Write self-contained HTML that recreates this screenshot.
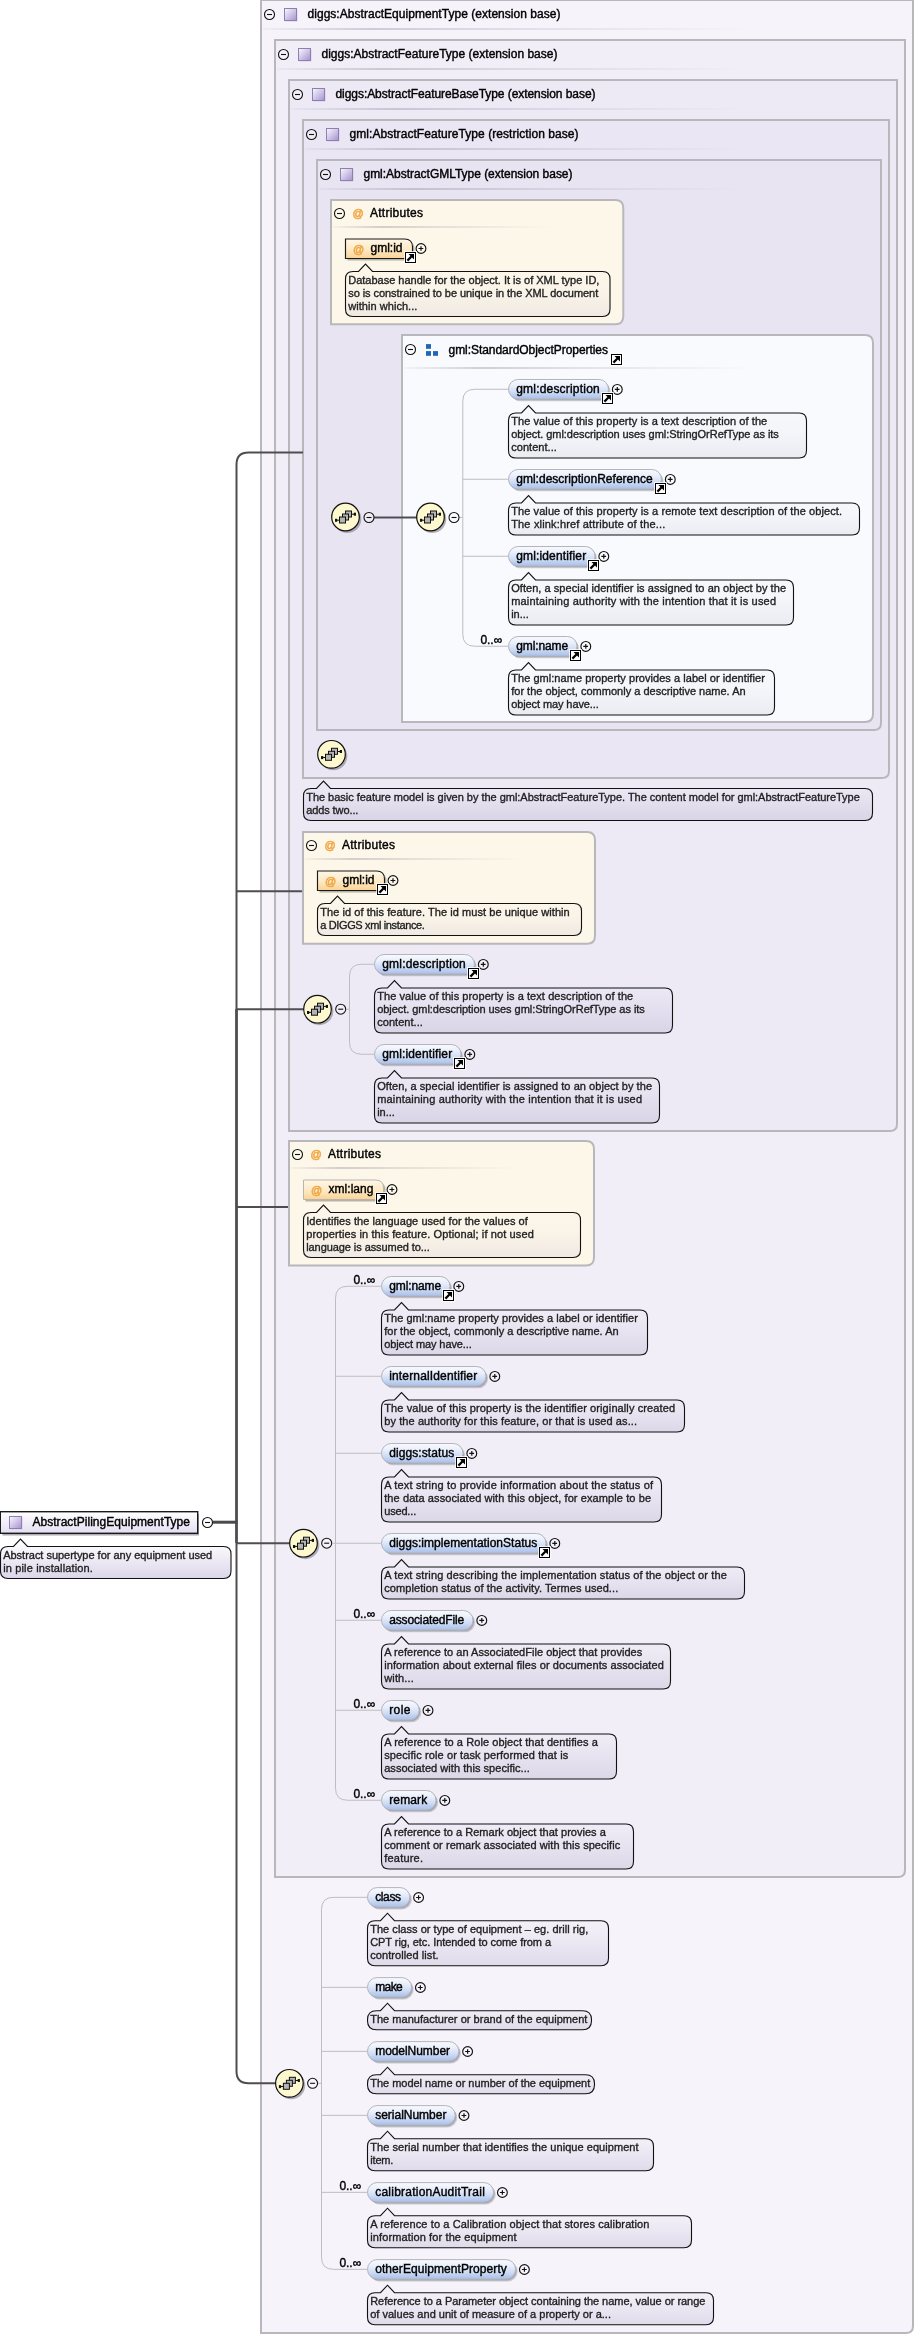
<!DOCTYPE html>
<html><head><meta charset="utf-8"><title>AbstractPilingEquipmentType</title>
<style>html,body{margin:0;padding:0;background:#fff}body{width:915px;height:2335px;overflow:hidden;font-family:"Liberation Sans",sans-serif}svg text{font-family:"Liberation Sans",sans-serif;white-space:pre}</style>
</head><body>
<svg width="915" height="2335" viewBox="0 0 915 2335" font-family="'Liberation Sans', sans-serif" style="display:block;will-change:transform"><defs>
<linearGradient id="gType" x1="0" y1="0" x2="1" y2="1"><stop offset="0" stop-color="#fbf9fe"/><stop offset="1" stop-color="#a591cf"/></linearGradient>
<linearGradient id="gSep" x1="0" y1="0" x2="1" y2="0"><stop offset="0" stop-color="#85858f" stop-opacity="0.06"/><stop offset="0.22" stop-color="#85858f" stop-opacity="0.36"/><stop offset="0.5" stop-color="#85858f" stop-opacity="0.2"/><stop offset="1" stop-color="#85858f" stop-opacity="0"/></linearGradient>
<linearGradient id="gAnn" x1="0" y1="0" x2="0" y2="1"><stop offset="0" stop-color="#9a8fb5" stop-opacity="0.0"/><stop offset="0.3" stop-color="#9a8fb5" stop-opacity="0.05"/><stop offset="1" stop-color="#9a8fb5" stop-opacity="0.24"/></linearGradient>
<linearGradient id="gAnnG" x1="0" y1="0" x2="0" y2="1"><stop offset="0" stop-color="#ffffff" stop-opacity="0.1"/><stop offset="0.45" stop-color="#9a9aa8" stop-opacity="0.04"/><stop offset="1" stop-color="#8a8a9a" stop-opacity="0.13"/></linearGradient>
<linearGradient id="gAnnW" x1="0" y1="0" x2="0" y2="1"><stop offset="0" stop-color="#ffffff"/><stop offset="0.3" stop-color="#f6f4fa"/><stop offset="1" stop-color="#dbd6e9"/></linearGradient>
<linearGradient id="gAnnC" x1="0" y1="0" x2="0" y2="1"><stop offset="0" stop-color="#ffffff" stop-opacity="0.1"/><stop offset="0.45" stop-color="#b9b0cc" stop-opacity="0.04"/><stop offset="1" stop-color="#9a8fb5" stop-opacity="0.14"/></linearGradient>
<linearGradient id="gElem" x1="0" y1="0" x2="0" y2="1"><stop offset="0" stop-color="#f8fafe"/><stop offset="0.35" stop-color="#e8eefb"/><stop offset="0.65" stop-color="#cfdcf5"/><stop offset="1" stop-color="#a6bfea"/></linearGradient>
<linearGradient id="gAttr" x1="0" y1="0" x2="0" y2="1"><stop offset="0" stop-color="#fef6e6"/><stop offset="0.5" stop-color="#fdebc9"/><stop offset="1" stop-color="#fad394"/></linearGradient>
<linearGradient id="gRoot" x1="0" y1="0" x2="0" y2="1"><stop offset="0" stop-color="#ffffff"/><stop offset="1" stop-color="#e4def2"/></linearGradient>
</defs>
<path d="M261 0H913V2326Q913 2333 906 2333H261Z" fill="#f6f3fb" stroke="#b8b8bc" stroke-width="2"/>
<circle cx="269.5" cy="14.5" r="5" fill="#fff" fill-opacity="0.25" stroke="#111" stroke-width="1.1"/>
<path d="M267.0 14.5H272.0" stroke="#111" stroke-width="1.1"/>
<rect x="285.5" y="9.5" width="12" height="12" fill="#c9bfe0" opacity="0.7"/>
<rect x="284.5" y="8.5" width="12" height="12" fill="url(#gType)" stroke="#8d7fb0" stroke-width="1"/>
<text x="307.5" y="18.1" font-size="12" fill="#000" text-anchor="start" textLength="253" lengthAdjust="spacing" stroke="#000" stroke-width="0.4">diggs:AbstractEquipmentType (extension base)</text>
<rect x="263" y="28" width="489.0" height="2" fill="url(#gSep)"/>
<path d="M275 40H905V1870Q905 1877 898 1877H275Z" fill="#f1eef8" stroke="#b8b8bc" stroke-width="2"/>
<circle cx="283.5" cy="54.5" r="5" fill="#fff" fill-opacity="0.25" stroke="#111" stroke-width="1.1"/>
<path d="M281.0 54.5H286.0" stroke="#111" stroke-width="1.1"/>
<rect x="299.5" y="49.5" width="12" height="12" fill="#c9bfe0" opacity="0.7"/>
<rect x="298.5" y="48.5" width="12" height="12" fill="url(#gType)" stroke="#8d7fb0" stroke-width="1"/>
<text x="321.5" y="58.1" font-size="12" fill="#000" text-anchor="start" textLength="236" lengthAdjust="spacing" stroke="#000" stroke-width="0.4">diggs:AbstractFeatureType (extension base)</text>
<rect x="277" y="68" width="472.5" height="2" fill="url(#gSep)"/>
<path d="M289 80H897V1124Q897 1131 890 1131H289Z" fill="#edeaf6" stroke="#b8b8bc" stroke-width="2"/>
<circle cx="297.5" cy="94.5" r="5" fill="#fff" fill-opacity="0.25" stroke="#111" stroke-width="1.1"/>
<path d="M295.0 94.5H300.0" stroke="#111" stroke-width="1.1"/>
<rect x="313.5" y="89.5" width="12" height="12" fill="#c9bfe0" opacity="0.7"/>
<rect x="312.5" y="88.5" width="12" height="12" fill="url(#gType)" stroke="#8d7fb0" stroke-width="1"/>
<text x="335.5" y="98.1" font-size="12" fill="#000" text-anchor="start" textLength="260" lengthAdjust="spacing" stroke="#000" stroke-width="0.4">diggs:AbstractFeatureBaseType (extension base)</text>
<rect x="291" y="108" width="456.0" height="2" fill="url(#gSep)"/>
<path d="M303 120H889V771Q889 778 882 778H303Z" fill="#eae6f4" stroke="#b8b8bc" stroke-width="2"/>
<circle cx="311.5" cy="134.5" r="5" fill="#fff" fill-opacity="0.25" stroke="#111" stroke-width="1.1"/>
<path d="M309.0 134.5H314.0" stroke="#111" stroke-width="1.1"/>
<rect x="327.5" y="129.5" width="12" height="12" fill="#c9bfe0" opacity="0.7"/>
<rect x="326.5" y="128.5" width="12" height="12" fill="url(#gType)" stroke="#8d7fb0" stroke-width="1"/>
<text x="349.5" y="138.1" font-size="12" fill="#000" text-anchor="start" textLength="229" lengthAdjust="spacing" stroke="#000" stroke-width="0.4">gml:AbstractFeatureType (restriction base)</text>
<rect x="305" y="148" width="439.5" height="2" fill="url(#gSep)"/>
<path d="M317 160H881V723Q881 730 874 730H317Z" fill="#e8e4f2" stroke="#b8b8bc" stroke-width="2"/>
<circle cx="325.5" cy="174.5" r="5" fill="#fff" fill-opacity="0.25" stroke="#111" stroke-width="1.1"/>
<path d="M323.0 174.5H328.0" stroke="#111" stroke-width="1.1"/>
<rect x="341.5" y="169.5" width="12" height="12" fill="#c9bfe0" opacity="0.7"/>
<rect x="340.5" y="168.5" width="12" height="12" fill="url(#gType)" stroke="#8d7fb0" stroke-width="1"/>
<text x="363.5" y="178.1" font-size="12" fill="#000" text-anchor="start" textLength="209" lengthAdjust="spacing" stroke="#000" stroke-width="0.4">gml:AbstractGMLType (extension base)</text>
<rect x="319" y="188" width="423.0" height="2" fill="url(#gSep)"/>
<path d="M303 452.5H248.5Q236.5 452.5 236.5 464.5V2071.2Q236.5 2083.2 248.5 2083.2H276" stroke="#4e4e52" stroke-width="2" fill="none"/>
<path d="M236.5 1009V1543" stroke="#4e4e52" stroke-width="2.6" fill="none"/>
<path d="M236.5 891.3H303" stroke="#4e4e52" stroke-width="2" fill="none"/>
<path d="M236.5 1009.2H304" stroke="#4e4e52" stroke-width="2" fill="none"/>
<path d="M236.5 1207H289" stroke="#4e4e52" stroke-width="2" fill="none"/>
<path d="M213 1522.2H237.5" stroke="#4a4a4e" stroke-width="3" fill="none"/>
<path d="M236.5 1543.2H290" stroke="#4e4e52" stroke-width="2" fill="none"/>
<path d="M331 200H615.3Q623.3 200 623.3 208V316.3Q623.3 324.3 615.3 324.3H331Z" fill="#fdf7ea" stroke="#b8b8bc" stroke-width="2"/>
<circle cx="339.5" cy="213.5" r="5" fill="#fff" fill-opacity="0.25" stroke="#111" stroke-width="1.1"/>
<path d="M337.0 213.5H342.0" stroke="#111" stroke-width="1.1"/>
<text x="352.5" y="217" font-size="11" fill="#f0a846" text-anchor="start" textLength="9.2" lengthAdjust="spacing" stroke="#f0a846" stroke-width="0.6">@</text>
<text x="370" y="217.3" font-size="12" fill="#000" text-anchor="start" textLength="53" lengthAdjust="spacing" stroke="#000" stroke-width="0.4">Attributes</text>
<rect x="333" y="226" width="219.22499999999997" height="2" fill="url(#gSep)"/>
<path d="M347.5 241.0H406.5Q414.5 241.0 414.5 249.0V260.5H347.5Z" fill="#9a958a" opacity="0.7"/>
<path d="M345.5 239.0H404.5Q412.5 239.0 412.5 247.0V258.5H345.5Z" fill="url(#gAttr)" stroke="#1a1a1a" stroke-width="1.15"/>
<text x="353.0" y="252.6" font-size="11" fill="#f0a846" text-anchor="start" textLength="9.2" lengthAdjust="spacing" stroke="#f0a846" stroke-width="0.6">@</text>
<text x="370.5" y="251.9" font-size="12" fill="#000" text-anchor="start" textLength="32" lengthAdjust="spacing" stroke="#000" stroke-width="0.4">gml:id</text>
<circle cx="421.0" cy="248.5" r="4.9" fill="#fff" fill-opacity="0.25" stroke="#111" stroke-width="1.15"/>
<path d="M418.5 248.5H423.3M421.0 246.2V250.8" stroke="#111" stroke-width="1.2"/>
<rect x="404.5" y="251.5" width="12" height="12" fill="none" stroke="#fff" stroke-opacity="0.75" stroke-width="1"/>
<rect x="405.5" y="252.5" width="10" height="10" fill="#fff" stroke="#000" stroke-width="1"/>
<path d="M407.4 260.6L411.7 256.3" stroke="#000" stroke-width="2.2" fill="none"/>
<path d="M408.5 254.0H414.0V259.5Z" fill="#000"/>
<path d="M353.0 271.5H358.5L365.5 264.0L372.5 271.5H602.5Q610.0 271.5 610.0 279.0V309.0Q610.0 316.5 602.5 316.5H353.0Q345.5 316.5 345.5 309.0V279.0Q345.5 271.5 353.0 271.5Z" fill="url(#gAnnC)" stroke="#111" stroke-width="1.1"/>
<text x="348.2" y="283.6" font-size="11" fill="#1f1f1f" text-anchor="start" textLength="251.2" lengthAdjust="spacing" stroke="#1f1f1f" stroke-width="0.35">Database handle for the object. It is of XML type ID,</text>
<text x="348.2" y="296.6" font-size="11" fill="#1f1f1f" text-anchor="start" textLength="250" lengthAdjust="spacing" stroke="#1f1f1f" stroke-width="0.35">so is constrained to be unique in the XML document</text>
<text x="348.2" y="309.6" font-size="11" fill="#1f1f1f" text-anchor="start" textLength="69.2" lengthAdjust="spacing" stroke="#1f1f1f" stroke-width="0.35">within which...</text>
<path d="M402 335H865Q873 335 873 343V714Q873 722 865 722H402Z" fill="#f9fafe" stroke="#b8b8bc" stroke-width="2"/>
<circle cx="410.5" cy="349.5" r="5" fill="#fff" fill-opacity="0.25" stroke="#111" stroke-width="1.1"/>
<path d="M408.0 349.5H413.0" stroke="#111" stroke-width="1.1"/>
<rect x="426" y="344.1" width="5" height="4.7" fill="#1f66b4"/>
<rect x="426" y="351.1" width="5" height="4.7" fill="#1f66b4"/>
<rect x="433" y="351.1" width="5" height="4.7" fill="#1f66b4"/>
<text x="448.5" y="353.5" font-size="12" fill="#000" text-anchor="start" textLength="159.5" lengthAdjust="spacing" stroke="#000" stroke-width="0.4">gml:StandardObjectProperties</text>
<rect x="610.5" y="353.5" width="12" height="12" fill="none" stroke="#fff" stroke-opacity="0.75" stroke-width="1"/>
<rect x="611.5" y="354.5" width="10" height="10" fill="#fff" stroke="#000" stroke-width="1"/>
<path d="M613.4 362.6L617.7 358.3" stroke="#000" stroke-width="2.2" fill="none"/>
<path d="M614.5 356.0H620.0V361.5Z" fill="#000"/>
<rect x="404" y="367" width="353.25" height="2" fill="url(#gSep)"/>
<path d="M508 389.25H474.8Q462.8 389.25 462.8 401.25V634.25Q462.8 646.25 474.8 646.25H508" stroke="#bdbdc1" stroke-width="1" fill="none"/>
<path d="M462.8 479.25H508" stroke="#bdbdc1" stroke-width="1" fill="none"/>
<path d="M462.8 556.25H508" stroke="#bdbdc1" stroke-width="1" fill="none"/>
<rect x="509.6" y="380.8" width="100.0" height="19.5" rx="9.7" fill="#7d7d88" opacity="0.45"/>
<rect x="510.6" y="381.8" width="100.0" height="19.5" rx="9.7" fill="#7d7d88" opacity="0.35"/>
<rect x="508.5" y="379.5" width="100.0" height="19.5" rx="9.7" fill="url(#gElem)" stroke="#b3b5bb" stroke-width="1"/>
<text x="516.2" y="392.7" font-size="12" fill="#000" text-anchor="start" textLength="83.5" lengthAdjust="spacing" stroke="#000" stroke-width="0.4">gml:description</text>
<circle cx="617.3" cy="389.4" r="4.9" fill="#fff" fill-opacity="0.25" stroke="#111" stroke-width="1.15"/>
<path d="M614.8 389.4H619.5999999999999M617.3 387.09999999999997V391.7" stroke="#111" stroke-width="1.2"/>
<rect x="601.5" y="392.5" width="12" height="12" fill="none" stroke="#fff" stroke-opacity="0.75" stroke-width="1"/>
<rect x="602.5" y="393.5" width="10" height="10" fill="#fff" stroke="#000" stroke-width="1"/>
<path d="M604.4 401.6L608.7 397.3" stroke="#000" stroke-width="2.2" fill="none"/>
<path d="M605.5 395.0H611.0V400.5Z" fill="#000"/>
<path d="M516.0 413H521.5L528.5 405.5L535.5 413H799.0Q806.5 413 806.5 420.5V450.5Q806.5 458 799.0 458H516.0Q508.5 458 508.5 450.5V420.5Q508.5 413 516.0 413Z" fill="url(#gAnnG)" stroke="#111" stroke-width="1.1"/>
<text x="511.2" y="425.1" font-size="11" fill="#1f1f1f" text-anchor="start" textLength="256" lengthAdjust="spacing" stroke="#1f1f1f" stroke-width="0.35">The value of this property is a text description of the</text>
<text x="511.2" y="438.1" font-size="11" fill="#1f1f1f" text-anchor="start" textLength="267.6" lengthAdjust="spacing" stroke="#1f1f1f" stroke-width="0.35">object. gml:description uses gml:StringOrRefType as its</text>
<text x="511.2" y="451.1" font-size="11" fill="#1f1f1f" text-anchor="start" textLength="45.6" lengthAdjust="spacing" stroke="#1f1f1f" stroke-width="0.35">content...</text>
<rect x="509.6" y="470.8" width="153.0" height="19.5" rx="9.7" fill="#7d7d88" opacity="0.45"/>
<rect x="510.6" y="471.8" width="153.0" height="19.5" rx="9.7" fill="#7d7d88" opacity="0.35"/>
<rect x="508.5" y="469.5" width="153.0" height="19.5" rx="9.7" fill="url(#gElem)" stroke="#b3b5bb" stroke-width="1"/>
<text x="516.2" y="482.7" font-size="12" fill="#000" text-anchor="start" textLength="136.5" lengthAdjust="spacing" stroke="#000" stroke-width="0.4">gml:descriptionReference</text>
<circle cx="670.3" cy="479.4" r="4.9" fill="#fff" fill-opacity="0.25" stroke="#111" stroke-width="1.15"/>
<path d="M667.8 479.4H672.5999999999999M670.3 477.09999999999997V481.7" stroke="#111" stroke-width="1.2"/>
<rect x="654.5" y="482.5" width="12" height="12" fill="none" stroke="#fff" stroke-opacity="0.75" stroke-width="1"/>
<rect x="655.5" y="483.5" width="10" height="10" fill="#fff" stroke="#000" stroke-width="1"/>
<path d="M657.4 491.6L661.7 487.3" stroke="#000" stroke-width="2.2" fill="none"/>
<path d="M658.5 485.0H664.0V490.5Z" fill="#000"/>
<path d="M516.0 503H521.5L528.5 495.5L535.5 503H852.0Q859.5 503 859.5 510.5V527.5Q859.5 535 852.0 535H516.0Q508.5 535 508.5 527.5V510.5Q508.5 503 516.0 503Z" fill="url(#gAnnG)" stroke="#111" stroke-width="1.1"/>
<text x="511.2" y="515.1" font-size="11" fill="#1f1f1f" text-anchor="start" textLength="330.8" lengthAdjust="spacing" stroke="#1f1f1f" stroke-width="0.35">The value of this property is a remote text description of the object.</text>
<text x="511.2" y="528.1" font-size="11" fill="#1f1f1f" text-anchor="start" textLength="154" lengthAdjust="spacing" stroke="#1f1f1f" stroke-width="0.35">The xlink:href attribute of the...</text>
<rect x="509.6" y="547.8" width="86.5" height="19.5" rx="9.7" fill="#7d7d88" opacity="0.45"/>
<rect x="510.6" y="548.8" width="86.5" height="19.5" rx="9.7" fill="#7d7d88" opacity="0.35"/>
<rect x="508.5" y="546.5" width="86.5" height="19.5" rx="9.7" fill="url(#gElem)" stroke="#b3b5bb" stroke-width="1"/>
<text x="516.2" y="559.7" font-size="12" fill="#000" text-anchor="start" textLength="70" lengthAdjust="spacing" stroke="#000" stroke-width="0.4">gml:identifier</text>
<circle cx="603.8" cy="556.4" r="4.9" fill="#fff" fill-opacity="0.25" stroke="#111" stroke-width="1.15"/>
<path d="M601.3 556.4H606.0999999999999M603.8 554.1V558.6999999999999" stroke="#111" stroke-width="1.2"/>
<rect x="587.5" y="559.5" width="12" height="12" fill="none" stroke="#fff" stroke-opacity="0.75" stroke-width="1"/>
<rect x="588.5" y="560.5" width="10" height="10" fill="#fff" stroke="#000" stroke-width="1"/>
<path d="M590.4 568.6L594.7 564.3" stroke="#000" stroke-width="2.2" fill="none"/>
<path d="M591.5 562.0H597.0V567.5Z" fill="#000"/>
<path d="M516.0 580H521.5L528.5 572.5L535.5 580H786.0Q793.5 580 793.5 587.5V617.5Q793.5 625 786.0 625H516.0Q508.5 625 508.5 617.5V587.5Q508.5 580 516.0 580Z" fill="url(#gAnnG)" stroke="#111" stroke-width="1.1"/>
<text x="511.2" y="592.1" font-size="11" fill="#1f1f1f" text-anchor="start" textLength="274.8" lengthAdjust="spacing" stroke="#1f1f1f" stroke-width="0.35">Often, a special identifier is assigned to an object by the</text>
<text x="511.2" y="605.1" font-size="11" fill="#1f1f1f" text-anchor="start" textLength="264.8" lengthAdjust="spacing" stroke="#1f1f1f" stroke-width="0.35">maintaining authority with the intention that it is used</text>
<text x="511.2" y="618.1" font-size="11" fill="#1f1f1f" text-anchor="start" textLength="17.6" lengthAdjust="spacing" stroke="#1f1f1f" stroke-width="0.35">in...</text>
<rect x="509.6" y="637.8" width="68.5" height="19.5" rx="9.7" fill="#7d7d88" opacity="0.45"/>
<rect x="510.6" y="638.8" width="68.5" height="19.5" rx="9.7" fill="#7d7d88" opacity="0.35"/>
<rect x="508.5" y="636.5" width="68.5" height="19.5" rx="9.7" fill="url(#gElem)" stroke="#b3b5bb" stroke-width="1"/>
<text x="516.2" y="649.7" font-size="12" fill="#000" text-anchor="start" textLength="52" lengthAdjust="spacing" stroke="#000" stroke-width="0.4">gml:name</text>
<circle cx="585.8" cy="646.4" r="4.9" fill="#fff" fill-opacity="0.25" stroke="#111" stroke-width="1.15"/>
<path d="M583.3 646.4H588.0999999999999M585.8 644.1V648.6999999999999" stroke="#111" stroke-width="1.2"/>
<rect x="569.5" y="649.5" width="12" height="12" fill="none" stroke="#fff" stroke-opacity="0.75" stroke-width="1"/>
<rect x="570.5" y="650.5" width="10" height="10" fill="#fff" stroke="#000" stroke-width="1"/>
<path d="M572.4 658.6L576.7 654.3" stroke="#000" stroke-width="2.2" fill="none"/>
<path d="M573.5 652.0H579.0V657.5Z" fill="#000"/>
<text x="480.4" y="643.8" font-size="12" fill="#000" text-anchor="start" textLength="21.8" lengthAdjust="spacing" stroke="#000" stroke-width="0.4">0..∞</text>
<path d="M516.0 670H521.5L528.5 662.5L535.5 670H767.0Q774.5 670 774.5 677.5V707.5Q774.5 715 767.0 715H516.0Q508.5 715 508.5 707.5V677.5Q508.5 670 516.0 670Z" fill="url(#gAnnG)" stroke="#111" stroke-width="1.1"/>
<text x="511.2" y="682.1" font-size="11" fill="#1f1f1f" text-anchor="start" textLength="253.6" lengthAdjust="spacing" stroke="#1f1f1f" stroke-width="0.35">The gml:name property provides a label or identifier</text>
<text x="511.2" y="695.1" font-size="11" fill="#1f1f1f" text-anchor="start" textLength="234.4" lengthAdjust="spacing" stroke="#1f1f1f" stroke-width="0.35">for the object, commonly a descriptive name. An</text>
<text x="511.2" y="708.1" font-size="11" fill="#1f1f1f" text-anchor="start" textLength="87.6" lengthAdjust="spacing" stroke="#1f1f1f" stroke-width="0.35">object may have...</text>
<path d="M374 517.5H417" stroke="#4e4e52" stroke-width="2" fill="none"/>
<path d="M459 517.5H462.8" stroke="#bcbcc0" stroke-width="1" fill="none"/>
<circle cx="347.3" cy="519" r="14" fill="#77737f" opacity="0.55"/>
<circle cx="345.5" cy="517" r="13.8" fill="#fdf8cd" stroke="#111" stroke-width="1.2"/>
<path d="M336.0 520.2H340.5M350.5 514.2H355.0" stroke="#111" stroke-width="1"/>
<rect x="335.0" y="518.8" width="2.2" height="3" fill="#111"/>
<rect x="353.8" y="512.7" width="2.2" height="3" fill="#111"/>
<rect x="345.5" y="511" width="6" height="6" fill="#b4b4b4" stroke="#111" stroke-width="1"/>
<rect x="342.5" y="514" width="6" height="6" fill="#b4b4b4" stroke="#111" stroke-width="1"/>
<rect x="339.5" y="517" width="6" height="6" fill="#b4b4b4" stroke="#111" stroke-width="1"/>
<circle cx="369" cy="517.5" r="5" fill="#fff" fill-opacity="0.25" stroke="#111" stroke-width="1.1"/>
<path d="M366.5 517.5H371.5" stroke="#111" stroke-width="1.1"/>
<circle cx="432.3" cy="519" r="14" fill="#77737f" opacity="0.55"/>
<circle cx="430.5" cy="517" r="13.8" fill="#fdf8cd" stroke="#111" stroke-width="1.2"/>
<path d="M421.0 520.2H425.5M435.5 514.2H440.0" stroke="#111" stroke-width="1"/>
<rect x="420.0" y="518.8" width="2.2" height="3" fill="#111"/>
<rect x="438.8" y="512.7" width="2.2" height="3" fill="#111"/>
<rect x="430.5" y="511" width="6" height="6" fill="#b4b4b4" stroke="#111" stroke-width="1"/>
<rect x="427.5" y="514" width="6" height="6" fill="#b4b4b4" stroke="#111" stroke-width="1"/>
<rect x="424.5" y="517" width="6" height="6" fill="#b4b4b4" stroke="#111" stroke-width="1"/>
<circle cx="454" cy="517.5" r="5" fill="#fff" fill-opacity="0.25" stroke="#111" stroke-width="1.1"/>
<path d="M451.5 517.5H456.5" stroke="#111" stroke-width="1.1"/>
<circle cx="333.3" cy="756.3" r="14" fill="#77737f" opacity="0.55"/>
<circle cx="331.5" cy="754.3" r="13.8" fill="#fdf8cd" stroke="#111" stroke-width="1.2"/>
<path d="M322.0 757.5H326.5M336.5 751.5H341.0" stroke="#111" stroke-width="1"/>
<rect x="321.0" y="756.0999999999999" width="2.2" height="3" fill="#111"/>
<rect x="339.8" y="750.0" width="2.2" height="3" fill="#111"/>
<rect x="331.5" y="748.3" width="6" height="6" fill="#b4b4b4" stroke="#111" stroke-width="1"/>
<rect x="328.5" y="751.3" width="6" height="6" fill="#b4b4b4" stroke="#111" stroke-width="1"/>
<rect x="325.5" y="754.3" width="6" height="6" fill="#b4b4b4" stroke="#111" stroke-width="1"/>
<path d="M311.0 788.5H316.5L323.5 781.0L330.5 788.5H865.0Q872.5 788.5 872.5 796.0V813.0Q872.5 820.5 865.0 820.5H311.0Q303.5 820.5 303.5 813.0V796.0Q303.5 788.5 311.0 788.5Z" fill="url(#gAnn)" stroke="#111" stroke-width="1.1"/>
<text x="306.2" y="800.6" font-size="11" fill="#1f1f1f" text-anchor="start" textLength="553.6" lengthAdjust="spacing" stroke="#1f1f1f" stroke-width="0.35">The basic feature model is given by the gml:AbstractFeatureType. The content model for gml:AbstractFeatureType</text>
<text x="306.2" y="813.6" font-size="11" fill="#1f1f1f" text-anchor="start" textLength="52.2" lengthAdjust="spacing" stroke="#1f1f1f" stroke-width="0.35">adds two...</text>
<path d="M303 832H587Q595 832 595 840V935.7Q595 943.7 587 943.7H303Z" fill="#fdf7ea" stroke="#b8b8bc" stroke-width="2"/>
<circle cx="311.5" cy="845.5" r="5" fill="#fff" fill-opacity="0.25" stroke="#111" stroke-width="1.1"/>
<path d="M309.0 845.5H314.0" stroke="#111" stroke-width="1.1"/>
<text x="324.5" y="849" font-size="11" fill="#f0a846" text-anchor="start" textLength="9.2" lengthAdjust="spacing" stroke="#f0a846" stroke-width="0.6">@</text>
<text x="342" y="849.3" font-size="12" fill="#000" text-anchor="start" textLength="53" lengthAdjust="spacing" stroke="#000" stroke-width="0.4">Attributes</text>
<rect x="305" y="858" width="219.0" height="2" fill="url(#gSep)"/>
<path d="M319.5 873.0H378.5Q386.5 873.0 386.5 881.0V892.5H319.5Z" fill="#9a958a" opacity="0.7"/>
<path d="M317.5 871.0H376.5Q384.5 871.0 384.5 879.0V890.5H317.5Z" fill="url(#gAttr)" stroke="#1a1a1a" stroke-width="1.15"/>
<text x="325.0" y="884.6" font-size="11" fill="#f0a846" text-anchor="start" textLength="9.2" lengthAdjust="spacing" stroke="#f0a846" stroke-width="0.6">@</text>
<text x="342.5" y="883.9" font-size="12" fill="#000" text-anchor="start" textLength="32" lengthAdjust="spacing" stroke="#000" stroke-width="0.4">gml:id</text>
<circle cx="393.0" cy="880.5" r="4.9" fill="#fff" fill-opacity="0.25" stroke="#111" stroke-width="1.15"/>
<path d="M390.5 880.5H395.3M393.0 878.2V882.8" stroke="#111" stroke-width="1.2"/>
<rect x="376.5" y="883.5" width="12" height="12" fill="none" stroke="#fff" stroke-opacity="0.75" stroke-width="1"/>
<rect x="377.5" y="884.5" width="10" height="10" fill="#fff" stroke="#000" stroke-width="1"/>
<path d="M379.4 892.6L383.7 888.3" stroke="#000" stroke-width="2.2" fill="none"/>
<path d="M380.5 886.0H386.0V891.5Z" fill="#000"/>
<path d="M325.0 903.5H330.5L337.5 896.0L344.5 903.5H574.0Q581.5 903.5 581.5 911.0V928.0Q581.5 935.5 574.0 935.5H325.0Q317.5 935.5 317.5 928.0V911.0Q317.5 903.5 325.0 903.5Z" fill="url(#gAnnC)" stroke="#111" stroke-width="1.1"/>
<text x="320.2" y="915.6" font-size="11" fill="#1f1f1f" text-anchor="start" textLength="249.5" lengthAdjust="spacing" stroke="#1f1f1f" stroke-width="0.35">The id of this feature. The id must be unique within</text>
<text x="320.2" y="928.6" font-size="11" fill="#1f1f1f" text-anchor="start" textLength="104.7" lengthAdjust="spacing" stroke="#1f1f1f" stroke-width="0.35">a DIGGS xml instance.</text>
<circle cx="319.3" cy="1011.2" r="14" fill="#77737f" opacity="0.55"/>
<circle cx="317.5" cy="1009.2" r="13.8" fill="#fdf8cd" stroke="#111" stroke-width="1.2"/>
<path d="M308.0 1012.4000000000001H312.5M322.5 1006.4000000000001H327.0" stroke="#111" stroke-width="1"/>
<rect x="307.0" y="1011.0" width="2.2" height="3" fill="#111"/>
<rect x="325.8" y="1004.9000000000001" width="2.2" height="3" fill="#111"/>
<rect x="317.5" y="1003.2" width="6" height="6" fill="#b4b4b4" stroke="#111" stroke-width="1"/>
<rect x="314.5" y="1006.2" width="6" height="6" fill="#b4b4b4" stroke="#111" stroke-width="1"/>
<rect x="311.5" y="1009.2" width="6" height="6" fill="#b4b4b4" stroke="#111" stroke-width="1"/>
<circle cx="340.7" cy="1009.2" r="5" fill="#fff" fill-opacity="0.25" stroke="#111" stroke-width="1.1"/>
<path d="M338.2 1009.2H343.2" stroke="#111" stroke-width="1.1"/>
<path d="M374 964.25H361.5Q349.5 964.25 349.5 976.25V1042.25Q349.5 1054.25 361.5 1054.25H374" stroke="#bdbdc1" stroke-width="1" fill="none"/>
<path d="M346 1009.25H349.5" stroke="#bcbcc0" stroke-width="1" fill="none"/>
<rect x="375.6" y="955.8" width="100.0" height="19.5" rx="9.7" fill="#7d7d88" opacity="0.45"/>
<rect x="376.6" y="956.8" width="100.0" height="19.5" rx="9.7" fill="#7d7d88" opacity="0.35"/>
<rect x="374.5" y="954.5" width="100.0" height="19.5" rx="9.7" fill="url(#gElem)" stroke="#b3b5bb" stroke-width="1"/>
<text x="382.2" y="967.7" font-size="12" fill="#000" text-anchor="start" textLength="83.5" lengthAdjust="spacing" stroke="#000" stroke-width="0.4">gml:description</text>
<circle cx="483.3" cy="964.4" r="4.9" fill="#fff" fill-opacity="0.25" stroke="#111" stroke-width="1.15"/>
<path d="M480.8 964.4H485.6M483.3 962.1V966.6999999999999" stroke="#111" stroke-width="1.2"/>
<rect x="467.5" y="967.5" width="12" height="12" fill="none" stroke="#fff" stroke-opacity="0.75" stroke-width="1"/>
<rect x="468.5" y="968.5" width="10" height="10" fill="#fff" stroke="#000" stroke-width="1"/>
<path d="M470.4 976.6L474.7 972.3" stroke="#000" stroke-width="2.2" fill="none"/>
<path d="M471.5 970.0H477.0V975.5Z" fill="#000"/>
<path d="M382.0 988H387.5L394.5 980.5L401.5 988H665.0Q672.5 988 672.5 995.5V1025.5Q672.5 1033 665.0 1033H382.0Q374.5 1033 374.5 1025.5V995.5Q374.5 988 382.0 988Z" fill="url(#gAnn)" stroke="#111" stroke-width="1.1"/>
<text x="377.2" y="1000.1" font-size="11" fill="#1f1f1f" text-anchor="start" textLength="256" lengthAdjust="spacing" stroke="#1f1f1f" stroke-width="0.35">The value of this property is a text description of the</text>
<text x="377.2" y="1013.1" font-size="11" fill="#1f1f1f" text-anchor="start" textLength="267.6" lengthAdjust="spacing" stroke="#1f1f1f" stroke-width="0.35">object. gml:description uses gml:StringOrRefType as its</text>
<text x="377.2" y="1026.1" font-size="11" fill="#1f1f1f" text-anchor="start" textLength="45.6" lengthAdjust="spacing" stroke="#1f1f1f" stroke-width="0.35">content...</text>
<rect x="375.6" y="1045.8" width="86.5" height="19.5" rx="9.7" fill="#7d7d88" opacity="0.45"/>
<rect x="376.6" y="1046.8" width="86.5" height="19.5" rx="9.7" fill="#7d7d88" opacity="0.35"/>
<rect x="374.5" y="1044.5" width="86.5" height="19.5" rx="9.7" fill="url(#gElem)" stroke="#b3b5bb" stroke-width="1"/>
<text x="382.2" y="1057.7" font-size="12" fill="#000" text-anchor="start" textLength="70" lengthAdjust="spacing" stroke="#000" stroke-width="0.4">gml:identifier</text>
<circle cx="469.8" cy="1054.4" r="4.9" fill="#fff" fill-opacity="0.25" stroke="#111" stroke-width="1.15"/>
<path d="M467.3 1054.4H472.1M469.8 1052.1000000000001V1056.7" stroke="#111" stroke-width="1.2"/>
<rect x="453.5" y="1057.5" width="12" height="12" fill="none" stroke="#fff" stroke-opacity="0.75" stroke-width="1"/>
<rect x="454.5" y="1058.5" width="10" height="10" fill="#fff" stroke="#000" stroke-width="1"/>
<path d="M456.4 1066.6L460.7 1062.3" stroke="#000" stroke-width="2.2" fill="none"/>
<path d="M457.5 1060.0H463.0V1065.5Z" fill="#000"/>
<path d="M382.0 1078H387.5L394.5 1070.5L401.5 1078H652.0Q659.5 1078 659.5 1085.5V1115.5Q659.5 1123 652.0 1123H382.0Q374.5 1123 374.5 1115.5V1085.5Q374.5 1078 382.0 1078Z" fill="url(#gAnn)" stroke="#111" stroke-width="1.1"/>
<text x="377.2" y="1090.1" font-size="11" fill="#1f1f1f" text-anchor="start" textLength="274.8" lengthAdjust="spacing" stroke="#1f1f1f" stroke-width="0.35">Often, a special identifier is assigned to an object by the</text>
<text x="377.2" y="1103.1" font-size="11" fill="#1f1f1f" text-anchor="start" textLength="264.8" lengthAdjust="spacing" stroke="#1f1f1f" stroke-width="0.35">maintaining authority with the intention that it is used</text>
<text x="377.2" y="1116.1" font-size="11" fill="#1f1f1f" text-anchor="start" textLength="17.6" lengthAdjust="spacing" stroke="#1f1f1f" stroke-width="0.35">in...</text>
<path d="M289 1141H586Q594 1141 594 1149V1257.4Q594 1265.4 586 1265.4H289Z" fill="#fdf7ea" stroke="#b8b8bc" stroke-width="2"/>
<circle cx="297.5" cy="1154.5" r="5" fill="#fff" fill-opacity="0.25" stroke="#111" stroke-width="1.1"/>
<path d="M295.0 1154.5H300.0" stroke="#111" stroke-width="1.1"/>
<text x="310.5" y="1158" font-size="11" fill="#f0a846" text-anchor="start" textLength="9.2" lengthAdjust="spacing" stroke="#f0a846" stroke-width="0.6">@</text>
<text x="328" y="1158.3" font-size="12" fill="#000" text-anchor="start" textLength="53" lengthAdjust="spacing" stroke="#000" stroke-width="0.4">Attributes</text>
<rect x="291" y="1167" width="228.75" height="2" fill="url(#gSep)"/>
<path d="M305.5 1182.0H377.5Q385.5 1182.0 385.5 1190.0V1201.5H305.5Z" fill="#9a958a" opacity="0.7"/>
<path d="M303.5 1180.0H375.5Q383.5 1180.0 383.5 1188.0V1199.5H303.5Z" fill="url(#gAttr)" stroke="#b9b5ad" stroke-width="1"/>
<text x="311.0" y="1193.6" font-size="11" fill="#f0a846" text-anchor="start" textLength="9.2" lengthAdjust="spacing" stroke="#f0a846" stroke-width="0.6">@</text>
<text x="328.5" y="1192.9" font-size="12" fill="#000" text-anchor="start" textLength="45" lengthAdjust="spacing" stroke="#000" stroke-width="0.4">xml:lang</text>
<circle cx="392.0" cy="1189.5" r="4.9" fill="#fff" fill-opacity="0.25" stroke="#111" stroke-width="1.15"/>
<path d="M389.5 1189.5H394.3M392.0 1187.2V1191.8" stroke="#111" stroke-width="1.2"/>
<rect x="375.5" y="1192.5" width="12" height="12" fill="none" stroke="#fff" stroke-opacity="0.75" stroke-width="1"/>
<rect x="376.5" y="1193.5" width="10" height="10" fill="#fff" stroke="#000" stroke-width="1"/>
<path d="M378.4 1201.6L382.7 1197.3" stroke="#000" stroke-width="2.2" fill="none"/>
<path d="M379.5 1195.0H385.0V1200.5Z" fill="#000"/>
<path d="M311.0 1212.5H316.5L323.5 1205.0L330.5 1212.5H573.0Q580.5 1212.5 580.5 1220.0V1250.0Q580.5 1257.5 573.0 1257.5H311.0Q303.5 1257.5 303.5 1250.0V1220.0Q303.5 1212.5 311.0 1212.5Z" fill="url(#gAnnC)" stroke="#111" stroke-width="1.1"/>
<text x="306.2" y="1224.6" font-size="11" fill="#1f1f1f" text-anchor="start" textLength="221.6" lengthAdjust="spacing" stroke="#1f1f1f" stroke-width="0.35">Identifies the language used for the values of</text>
<text x="306.2" y="1237.6" font-size="11" fill="#1f1f1f" text-anchor="start" textLength="227.6" lengthAdjust="spacing" stroke="#1f1f1f" stroke-width="0.35">properties in this feature. Optional; if not used</text>
<text x="306.2" y="1250.6" font-size="11" fill="#1f1f1f" text-anchor="start" textLength="123.6" lengthAdjust="spacing" stroke="#1f1f1f" stroke-width="0.35">language is assumed to...</text>
<circle cx="305.3" cy="1545.2" r="14" fill="#77737f" opacity="0.55"/>
<circle cx="303.5" cy="1543.2" r="13.8" fill="#fdf8cd" stroke="#111" stroke-width="1.2"/>
<path d="M294.0 1546.4H298.5M308.5 1540.4H313.0" stroke="#111" stroke-width="1"/>
<rect x="293.0" y="1545.0" width="2.2" height="3" fill="#111"/>
<rect x="311.8" y="1538.9" width="2.2" height="3" fill="#111"/>
<rect x="303.5" y="1537.2" width="6" height="6" fill="#b4b4b4" stroke="#111" stroke-width="1"/>
<rect x="300.5" y="1540.2" width="6" height="6" fill="#b4b4b4" stroke="#111" stroke-width="1"/>
<rect x="297.5" y="1543.2" width="6" height="6" fill="#b4b4b4" stroke="#111" stroke-width="1"/>
<circle cx="326.7" cy="1543.2" r="5" fill="#fff" fill-opacity="0.25" stroke="#111" stroke-width="1.1"/>
<path d="M324.2 1543.2H329.2" stroke="#111" stroke-width="1.1"/>
<path d="M381 1286.25H347.5Q335.5 1286.25 335.5 1298.25V1788.25Q335.5 1800.25 347.5 1800.25H381" stroke="#bdbdc1" stroke-width="1" fill="none"/>
<path d="M335.5 1376.25H381" stroke="#bdbdc1" stroke-width="1" fill="none"/>
<path d="M335.5 1453.25H381" stroke="#bdbdc1" stroke-width="1" fill="none"/>
<path d="M335.5 1543.25H381" stroke="#bdbdc1" stroke-width="1" fill="none"/>
<path d="M335.5 1620.25H381" stroke="#bdbdc1" stroke-width="1" fill="none"/>
<path d="M335.5 1710.25H381" stroke="#bdbdc1" stroke-width="1" fill="none"/>
<path d="M332 1543.25H335.5" stroke="#bcbcc0" stroke-width="1" fill="none"/>
<rect x="382.6" y="1277.8" width="68.5" height="19.5" rx="9.7" fill="#7d7d88" opacity="0.45"/>
<rect x="383.6" y="1278.8" width="68.5" height="19.5" rx="9.7" fill="#7d7d88" opacity="0.35"/>
<rect x="381.5" y="1276.5" width="68.5" height="19.5" rx="9.7" fill="url(#gElem)" stroke="#b3b5bb" stroke-width="1"/>
<text x="389.2" y="1289.7" font-size="12" fill="#000" text-anchor="start" textLength="52" lengthAdjust="spacing" stroke="#000" stroke-width="0.4">gml:name</text>
<circle cx="458.8" cy="1286.4" r="4.9" fill="#fff" fill-opacity="0.25" stroke="#111" stroke-width="1.15"/>
<path d="M456.3 1286.4H461.1M458.8 1284.1000000000001V1288.7" stroke="#111" stroke-width="1.2"/>
<rect x="442.5" y="1289.5" width="12" height="12" fill="none" stroke="#fff" stroke-opacity="0.75" stroke-width="1"/>
<rect x="443.5" y="1290.5" width="10" height="10" fill="#fff" stroke="#000" stroke-width="1"/>
<path d="M445.4 1298.6L449.7 1294.3" stroke="#000" stroke-width="2.2" fill="none"/>
<path d="M446.5 1292.0H452.0V1297.5Z" fill="#000"/>
<text x="353.4" y="1283.8" font-size="12" fill="#000" text-anchor="start" textLength="21.8" lengthAdjust="spacing" stroke="#000" stroke-width="0.4">0..∞</text>
<path d="M389.0 1310H394.5L401.5 1302.5L408.5 1310H640.0Q647.5 1310 647.5 1317.5V1347.5Q647.5 1355 640.0 1355H389.0Q381.5 1355 381.5 1347.5V1317.5Q381.5 1310 389.0 1310Z" fill="url(#gAnn)" stroke="#111" stroke-width="1.1"/>
<text x="384.2" y="1322.1" font-size="11" fill="#1f1f1f" text-anchor="start" textLength="253.6" lengthAdjust="spacing" stroke="#1f1f1f" stroke-width="0.35">The gml:name property provides a label or identifier</text>
<text x="384.2" y="1335.1" font-size="11" fill="#1f1f1f" text-anchor="start" textLength="234.4" lengthAdjust="spacing" stroke="#1f1f1f" stroke-width="0.35">for the object, commonly a descriptive name. An</text>
<text x="384.2" y="1348.1" font-size="11" fill="#1f1f1f" text-anchor="start" textLength="87.6" lengthAdjust="spacing" stroke="#1f1f1f" stroke-width="0.35">object may have...</text>
<rect x="382.6" y="1367.8" width="104.5" height="19.5" rx="9.7" fill="#7d7d88" opacity="0.45"/>
<rect x="383.6" y="1368.8" width="104.5" height="19.5" rx="9.7" fill="#7d7d88" opacity="0.35"/>
<rect x="381.5" y="1366.5" width="104.5" height="19.5" rx="9.7" fill="url(#gElem)" stroke="#b3b5bb" stroke-width="1"/>
<text x="389.2" y="1379.7" font-size="12" fill="#000" text-anchor="start" textLength="88" lengthAdjust="spacing" stroke="#000" stroke-width="0.4">internalIdentifier</text>
<circle cx="494.8" cy="1376.4" r="4.9" fill="#fff" fill-opacity="0.25" stroke="#111" stroke-width="1.15"/>
<path d="M492.3 1376.4H497.1M494.8 1374.1000000000001V1378.7" stroke="#111" stroke-width="1.2"/>
<path d="M389.0 1400H394.5L401.5 1392.5L408.5 1400H677.0Q684.5 1400 684.5 1407.5V1424.5Q684.5 1432 677.0 1432H389.0Q381.5 1432 381.5 1424.5V1407.5Q381.5 1400 389.0 1400Z" fill="url(#gAnn)" stroke="#111" stroke-width="1.1"/>
<text x="384.2" y="1412.1" font-size="11" fill="#1f1f1f" text-anchor="start" textLength="290.8" lengthAdjust="spacing" stroke="#1f1f1f" stroke-width="0.35">The value of this property is the identifier originally created</text>
<text x="384.2" y="1425.1" font-size="11" fill="#1f1f1f" text-anchor="start" textLength="252.8" lengthAdjust="spacing" stroke="#1f1f1f" stroke-width="0.35">by the authority for this feature, or that is used as...</text>
<rect x="382.6" y="1444.8" width="81.5" height="19.5" rx="9.7" fill="#7d7d88" opacity="0.45"/>
<rect x="383.6" y="1445.8" width="81.5" height="19.5" rx="9.7" fill="#7d7d88" opacity="0.35"/>
<rect x="381.5" y="1443.5" width="81.5" height="19.5" rx="9.7" fill="url(#gElem)" stroke="#b3b5bb" stroke-width="1"/>
<text x="389.2" y="1456.7" font-size="12" fill="#000" text-anchor="start" textLength="65" lengthAdjust="spacing" stroke="#000" stroke-width="0.4">diggs:status</text>
<circle cx="471.8" cy="1453.4" r="4.9" fill="#fff" fill-opacity="0.25" stroke="#111" stroke-width="1.15"/>
<path d="M469.3 1453.4H474.1M471.8 1451.1000000000001V1455.7" stroke="#111" stroke-width="1.2"/>
<rect x="455.5" y="1456.5" width="12" height="12" fill="none" stroke="#fff" stroke-opacity="0.75" stroke-width="1"/>
<rect x="456.5" y="1457.5" width="10" height="10" fill="#fff" stroke="#000" stroke-width="1"/>
<path d="M458.4 1465.6L462.7 1461.3" stroke="#000" stroke-width="2.2" fill="none"/>
<path d="M459.5 1459.0H465.0V1464.5Z" fill="#000"/>
<path d="M389.0 1477H394.5L401.5 1469.5L408.5 1477H654.0Q661.5 1477 661.5 1484.5V1514.5Q661.5 1522 654.0 1522H389.0Q381.5 1522 381.5 1514.5V1484.5Q381.5 1477 389.0 1477Z" fill="url(#gAnn)" stroke="#111" stroke-width="1.1"/>
<text x="384.2" y="1489.1" font-size="11" fill="#1f1f1f" text-anchor="start" textLength="268.8" lengthAdjust="spacing" stroke="#1f1f1f" stroke-width="0.35">A text string to provide information about the status of</text>
<text x="384.2" y="1502.1" font-size="11" fill="#1f1f1f" text-anchor="start" textLength="266.8" lengthAdjust="spacing" stroke="#1f1f1f" stroke-width="0.35">the data associated with this object, for example to be</text>
<text x="384.2" y="1515.1" font-size="11" fill="#1f1f1f" text-anchor="start" textLength="32" lengthAdjust="spacing" stroke="#1f1f1f" stroke-width="0.35">used...</text>
<rect x="382.6" y="1534.8" width="164.5" height="19.5" rx="9.7" fill="#7d7d88" opacity="0.45"/>
<rect x="383.6" y="1535.8" width="164.5" height="19.5" rx="9.7" fill="#7d7d88" opacity="0.35"/>
<rect x="381.5" y="1533.5" width="164.5" height="19.5" rx="9.7" fill="url(#gElem)" stroke="#b3b5bb" stroke-width="1"/>
<text x="389.2" y="1546.7" font-size="12" fill="#000" text-anchor="start" textLength="148" lengthAdjust="spacing" stroke="#000" stroke-width="0.4">diggs:implementationStatus</text>
<circle cx="554.8" cy="1543.4" r="4.9" fill="#fff" fill-opacity="0.25" stroke="#111" stroke-width="1.15"/>
<path d="M552.3 1543.4H557.0999999999999M554.8 1541.1000000000001V1545.7" stroke="#111" stroke-width="1.2"/>
<rect x="538.5" y="1546.5" width="12" height="12" fill="none" stroke="#fff" stroke-opacity="0.75" stroke-width="1"/>
<rect x="539.5" y="1547.5" width="10" height="10" fill="#fff" stroke="#000" stroke-width="1"/>
<path d="M541.4 1555.6L545.7 1551.3" stroke="#000" stroke-width="2.2" fill="none"/>
<path d="M542.5 1549.0H548.0V1554.5Z" fill="#000"/>
<path d="M389.0 1567H394.5L401.5 1559.5L408.5 1567H737.0Q744.5 1567 744.5 1574.5V1591.5Q744.5 1599 737.0 1599H389.0Q381.5 1599 381.5 1591.5V1574.5Q381.5 1567 389.0 1567Z" fill="url(#gAnn)" stroke="#111" stroke-width="1.1"/>
<text x="384.2" y="1579.1" font-size="11" fill="#1f1f1f" text-anchor="start" textLength="342.7" lengthAdjust="spacing" stroke="#1f1f1f" stroke-width="0.35">A text string describing the implementation status of the object or the</text>
<text x="384.2" y="1592.1" font-size="11" fill="#1f1f1f" text-anchor="start" textLength="234" lengthAdjust="spacing" stroke="#1f1f1f" stroke-width="0.35">completion status of the activity. Termes used...</text>
<rect x="382.6" y="1611.8" width="91.5" height="19.5" rx="9.7" fill="#7d7d88" opacity="0.45"/>
<rect x="383.6" y="1612.8" width="91.5" height="19.5" rx="9.7" fill="#7d7d88" opacity="0.35"/>
<rect x="381.5" y="1610.5" width="91.5" height="19.5" rx="9.7" fill="url(#gElem)" stroke="#b3b5bb" stroke-width="1"/>
<text x="389.2" y="1623.7" font-size="12" fill="#000" text-anchor="start" textLength="75" lengthAdjust="spacing" stroke="#000" stroke-width="0.4">associatedFile</text>
<circle cx="481.8" cy="1620.4" r="4.9" fill="#fff" fill-opacity="0.25" stroke="#111" stroke-width="1.15"/>
<path d="M479.3 1620.4H484.1M481.8 1618.1000000000001V1622.7" stroke="#111" stroke-width="1.2"/>
<text x="353.4" y="1617.8" font-size="12" fill="#000" text-anchor="start" textLength="21.8" lengthAdjust="spacing" stroke="#000" stroke-width="0.4">0..∞</text>
<path d="M389.0 1644H394.5L401.5 1636.5L408.5 1644H663.0Q670.5 1644 670.5 1651.5V1681.5Q670.5 1689 663.0 1689H389.0Q381.5 1689 381.5 1681.5V1651.5Q381.5 1644 389.0 1644Z" fill="url(#gAnn)" stroke="#111" stroke-width="1.1"/>
<text x="384.2" y="1656.1" font-size="11" fill="#1f1f1f" text-anchor="start" textLength="258" lengthAdjust="spacing" stroke="#1f1f1f" stroke-width="0.35">A reference to an AssociatedFile object that provides</text>
<text x="384.2" y="1669.1" font-size="11" fill="#1f1f1f" text-anchor="start" textLength="279.6" lengthAdjust="spacing" stroke="#1f1f1f" stroke-width="0.35">information about external files or documents associated</text>
<text x="384.2" y="1682.1" font-size="11" fill="#1f1f1f" text-anchor="start" textLength="29.6" lengthAdjust="spacing" stroke="#1f1f1f" stroke-width="0.35">with...</text>
<rect x="382.6" y="1701.8" width="37.7" height="19.5" rx="9.7" fill="#7d7d88" opacity="0.45"/>
<rect x="383.6" y="1702.8" width="37.7" height="19.5" rx="9.7" fill="#7d7d88" opacity="0.35"/>
<rect x="381.5" y="1700.5" width="37.7" height="19.5" rx="9.7" fill="url(#gElem)" stroke="#b3b5bb" stroke-width="1"/>
<text x="389.2" y="1713.7" font-size="12" fill="#000" text-anchor="start" textLength="21.2" lengthAdjust="spacing" stroke="#000" stroke-width="0.4">role</text>
<circle cx="428.0" cy="1710.4" r="4.9" fill="#fff" fill-opacity="0.25" stroke="#111" stroke-width="1.15"/>
<path d="M425.5 1710.4H430.3M428.0 1708.1000000000001V1712.7" stroke="#111" stroke-width="1.2"/>
<text x="353.4" y="1707.8" font-size="12" fill="#000" text-anchor="start" textLength="21.8" lengthAdjust="spacing" stroke="#000" stroke-width="0.4">0..∞</text>
<path d="M389.0 1734H394.5L401.5 1726.5L408.5 1734H609.0Q616.5 1734 616.5 1741.5V1771.5Q616.5 1779 609.0 1779H389.0Q381.5 1779 381.5 1771.5V1741.5Q381.5 1734 389.0 1734Z" fill="url(#gAnn)" stroke="#111" stroke-width="1.1"/>
<text x="384.2" y="1746.1" font-size="11" fill="#1f1f1f" text-anchor="start" textLength="213.6" lengthAdjust="spacing" stroke="#1f1f1f" stroke-width="0.35">A reference to a Role object that dentifies a</text>
<text x="384.2" y="1759.1" font-size="11" fill="#1f1f1f" text-anchor="start" textLength="184" lengthAdjust="spacing" stroke="#1f1f1f" stroke-width="0.35">specific role or task performed that is</text>
<text x="384.2" y="1772.1" font-size="11" fill="#1f1f1f" text-anchor="start" textLength="145.6" lengthAdjust="spacing" stroke="#1f1f1f" stroke-width="0.35">associated with this specific...</text>
<rect x="382.6" y="1791.8" width="54.5" height="19.5" rx="9.7" fill="#7d7d88" opacity="0.45"/>
<rect x="383.6" y="1792.8" width="54.5" height="19.5" rx="9.7" fill="#7d7d88" opacity="0.35"/>
<rect x="381.5" y="1790.5" width="54.5" height="19.5" rx="9.7" fill="url(#gElem)" stroke="#b3b5bb" stroke-width="1"/>
<text x="389.2" y="1803.7" font-size="12" fill="#000" text-anchor="start" textLength="38" lengthAdjust="spacing" stroke="#000" stroke-width="0.4">remark</text>
<circle cx="444.8" cy="1800.4" r="4.9" fill="#fff" fill-opacity="0.25" stroke="#111" stroke-width="1.15"/>
<path d="M442.3 1800.4H447.1M444.8 1798.1000000000001V1802.7" stroke="#111" stroke-width="1.2"/>
<text x="353.4" y="1797.8" font-size="12" fill="#000" text-anchor="start" textLength="21.8" lengthAdjust="spacing" stroke="#000" stroke-width="0.4">0..∞</text>
<path d="M389.0 1824H394.5L401.5 1816.5L408.5 1824H626.0Q633.5 1824 633.5 1831.5V1861.5Q633.5 1869 626.0 1869H389.0Q381.5 1869 381.5 1861.5V1831.5Q381.5 1824 389.0 1824Z" fill="url(#gAnn)" stroke="#111" stroke-width="1.1"/>
<text x="384.2" y="1836.1" font-size="11" fill="#1f1f1f" text-anchor="start" textLength="221.6" lengthAdjust="spacing" stroke="#1f1f1f" stroke-width="0.35">A reference to a Remark object that provies a</text>
<text x="384.2" y="1849.1" font-size="11" fill="#1f1f1f" text-anchor="start" textLength="236" lengthAdjust="spacing" stroke="#1f1f1f" stroke-width="0.35">comment or remark associated with this specific</text>
<text x="384.2" y="1862.1" font-size="11" fill="#1f1f1f" text-anchor="start" textLength="38.8" lengthAdjust="spacing" stroke="#1f1f1f" stroke-width="0.35">feature.</text>
<circle cx="291.2" cy="2085.3" r="14" fill="#77737f" opacity="0.55"/>
<circle cx="289.4" cy="2083.3" r="13.8" fill="#fdf8cd" stroke="#111" stroke-width="1.2"/>
<path d="M279.9 2086.5H284.4M294.4 2080.5H298.9" stroke="#111" stroke-width="1"/>
<rect x="278.9" y="2085.1000000000004" width="2.2" height="3" fill="#111"/>
<rect x="297.7" y="2079.0" width="2.2" height="3" fill="#111"/>
<rect x="289.4" y="2077.3" width="6" height="6" fill="#b4b4b4" stroke="#111" stroke-width="1"/>
<rect x="286.4" y="2080.3" width="6" height="6" fill="#b4b4b4" stroke="#111" stroke-width="1"/>
<rect x="283.4" y="2083.3" width="6" height="6" fill="#b4b4b4" stroke="#111" stroke-width="1"/>
<circle cx="312.6" cy="2083.3" r="5" fill="#fff" fill-opacity="0.25" stroke="#111" stroke-width="1.1"/>
<path d="M310.1 2083.3H315.1" stroke="#111" stroke-width="1.1"/>
<path d="M367 1897.35H333.5Q321.5 1897.35 321.5 1909.35V2257.35Q321.5 2269.35 333.5 2269.35H367" stroke="#bdbdc1" stroke-width="1" fill="none"/>
<path d="M321.5 1987.35H367" stroke="#bdbdc1" stroke-width="1" fill="none"/>
<path d="M321.5 2051.35H367" stroke="#bdbdc1" stroke-width="1" fill="none"/>
<path d="M321.5 2115.35H367" stroke="#bdbdc1" stroke-width="1" fill="none"/>
<path d="M321.5 2192.35H367" stroke="#bdbdc1" stroke-width="1" fill="none"/>
<path d="M318 2083.3H321.5" stroke="#bcbcc0" stroke-width="1" fill="none"/>
<rect x="368.6" y="1888.8999999999999" width="42.3" height="19.5" rx="9.7" fill="#7d7d88" opacity="0.45"/>
<rect x="369.6" y="1889.8999999999999" width="42.3" height="19.5" rx="9.7" fill="#7d7d88" opacity="0.35"/>
<rect x="367.5" y="1887.6" width="42.3" height="19.5" rx="9.7" fill="url(#gElem)" stroke="#b3b5bb" stroke-width="1"/>
<text x="375.2" y="1900.8" font-size="12" fill="#000" text-anchor="start" textLength="25.8" lengthAdjust="spacing" stroke="#000" stroke-width="0.4">class</text>
<circle cx="418.6" cy="1897.5" r="4.9" fill="#fff" fill-opacity="0.25" stroke="#111" stroke-width="1.15"/>
<path d="M416.1 1897.5H420.90000000000003M418.6 1895.2V1899.8" stroke="#111" stroke-width="1.2"/>
<path d="M375.0 1920.7H380.5L387.5 1913.2L394.5 1920.7H601.0Q608.5 1920.7 608.5 1928.2V1958.2Q608.5 1965.7 601.0 1965.7H375.0Q367.5 1965.7 367.5 1958.2V1928.2Q367.5 1920.7 375.0 1920.7Z" fill="url(#gAnn)" stroke="#111" stroke-width="1.1"/>
<text x="370.2" y="1932.8" font-size="11" fill="#1f1f1f" text-anchor="start" textLength="218" lengthAdjust="spacing" stroke="#1f1f1f" stroke-width="0.35">The class or type of equipment – eg. drill rig,</text>
<text x="370.2" y="1945.8" font-size="11" fill="#1f1f1f" text-anchor="start" textLength="180.8" lengthAdjust="spacing" stroke="#1f1f1f" stroke-width="0.35">CPT rig, etc. Intended to come from a</text>
<text x="370.2" y="1958.8" font-size="11" fill="#1f1f1f" text-anchor="start" textLength="68.4" lengthAdjust="spacing" stroke="#1f1f1f" stroke-width="0.35">controlled list.</text>
<rect x="368.6" y="1978.8999999999999" width="44.1" height="19.5" rx="9.7" fill="#7d7d88" opacity="0.45"/>
<rect x="369.6" y="1979.8999999999999" width="44.1" height="19.5" rx="9.7" fill="#7d7d88" opacity="0.35"/>
<rect x="367.5" y="1977.6" width="44.1" height="19.5" rx="9.7" fill="url(#gElem)" stroke="#b3b5bb" stroke-width="1"/>
<text x="375.2" y="1990.8" font-size="12" fill="#000" text-anchor="start" textLength="27.6" lengthAdjust="spacing" stroke="#000" stroke-width="0.4">make</text>
<circle cx="420.40000000000003" cy="1987.5" r="4.9" fill="#fff" fill-opacity="0.25" stroke="#111" stroke-width="1.15"/>
<path d="M417.90000000000003 1987.5H422.70000000000005M420.40000000000003 1985.2V1989.8" stroke="#111" stroke-width="1.2"/>
<path d="M376.5 2010.7H380.5L387.5 2003.2L394.5 2010.7H582.5Q591.5 2010.7 591.5 2019.7V2020.7Q591.5 2029.7 582.5 2029.7H376.5Q367.5 2029.7 367.5 2020.7V2019.7Q367.5 2010.7 376.5 2010.7Z" fill="url(#gAnn)" stroke="#111" stroke-width="1.1"/>
<text x="370.2" y="2022.8" font-size="11" fill="#1f1f1f" text-anchor="start" textLength="217.2" lengthAdjust="spacing" stroke="#1f1f1f" stroke-width="0.35">The manufacturer or brand of the equipment</text>
<rect x="368.6" y="2042.8999999999999" width="91.3" height="19.5" rx="9.7" fill="#7d7d88" opacity="0.45"/>
<rect x="369.6" y="2043.8999999999999" width="91.3" height="19.5" rx="9.7" fill="#7d7d88" opacity="0.35"/>
<rect x="367.5" y="2041.6" width="91.3" height="19.5" rx="9.7" fill="url(#gElem)" stroke="#b3b5bb" stroke-width="1"/>
<text x="375.2" y="2054.7999999999997" font-size="12" fill="#000" text-anchor="start" textLength="74.8" lengthAdjust="spacing" stroke="#000" stroke-width="0.4">modelNumber</text>
<circle cx="467.6" cy="2051.5" r="4.9" fill="#fff" fill-opacity="0.25" stroke="#111" stroke-width="1.15"/>
<path d="M465.1 2051.5H469.90000000000003M467.6 2049.2V2053.8" stroke="#111" stroke-width="1.2"/>
<path d="M376.5 2074.7H380.5L387.5 2067.2L394.5 2074.7H585.5Q594.5 2074.7 594.5 2083.7V2084.7Q594.5 2093.7 585.5 2093.7H376.5Q367.5 2093.7 367.5 2084.7V2083.7Q367.5 2074.7 376.5 2074.7Z" fill="url(#gAnn)" stroke="#111" stroke-width="1.1"/>
<text x="370.2" y="2086.7999999999997" font-size="11" fill="#1f1f1f" text-anchor="start" textLength="220" lengthAdjust="spacing" stroke="#1f1f1f" stroke-width="0.35">The model name or number of the equipment</text>
<rect x="368.6" y="2106.9" width="87.7" height="19.5" rx="9.7" fill="#7d7d88" opacity="0.45"/>
<rect x="369.6" y="2107.9" width="87.7" height="19.5" rx="9.7" fill="#7d7d88" opacity="0.35"/>
<rect x="367.5" y="2105.6" width="87.7" height="19.5" rx="9.7" fill="url(#gElem)" stroke="#b3b5bb" stroke-width="1"/>
<text x="375.2" y="2118.7999999999997" font-size="12" fill="#000" text-anchor="start" textLength="71.2" lengthAdjust="spacing" stroke="#000" stroke-width="0.4">serialNumber</text>
<circle cx="464.0" cy="2115.5" r="4.9" fill="#fff" fill-opacity="0.25" stroke="#111" stroke-width="1.15"/>
<path d="M461.5 2115.5H466.3M464.0 2113.2V2117.8" stroke="#111" stroke-width="1.2"/>
<path d="M375.0 2138.7H380.5L387.5 2131.2L394.5 2138.7H646.0Q653.5 2138.7 653.5 2146.2V2163.2Q653.5 2170.7 646.0 2170.7H375.0Q367.5 2170.7 367.5 2163.2V2146.2Q367.5 2138.7 375.0 2138.7Z" fill="url(#gAnn)" stroke="#111" stroke-width="1.1"/>
<text x="370.2" y="2150.7999999999997" font-size="11" fill="#1f1f1f" text-anchor="start" textLength="268.4" lengthAdjust="spacing" stroke="#1f1f1f" stroke-width="0.35">The serial number that identifies the unique equipment</text>
<text x="370.2" y="2163.7999999999997" font-size="11" fill="#1f1f1f" text-anchor="start" textLength="23.2" lengthAdjust="spacing" stroke="#1f1f1f" stroke-width="0.35">item.</text>
<rect x="368.6" y="2183.9" width="126.1" height="19.5" rx="9.7" fill="#7d7d88" opacity="0.45"/>
<rect x="369.6" y="2184.9" width="126.1" height="19.5" rx="9.7" fill="#7d7d88" opacity="0.35"/>
<rect x="367.5" y="2182.6" width="126.1" height="19.5" rx="9.7" fill="url(#gElem)" stroke="#b3b5bb" stroke-width="1"/>
<text x="375.2" y="2195.7999999999997" font-size="12" fill="#000" text-anchor="start" textLength="109.6" lengthAdjust="spacing" stroke="#000" stroke-width="0.4">calibrationAuditTrail</text>
<circle cx="502.40000000000003" cy="2192.5" r="4.9" fill="#fff" fill-opacity="0.25" stroke="#111" stroke-width="1.15"/>
<path d="M499.90000000000003 2192.5H504.70000000000005M502.40000000000003 2190.2V2194.8" stroke="#111" stroke-width="1.2"/>
<text x="339.4" y="2189.9" font-size="12" fill="#000" text-anchor="start" textLength="21.8" lengthAdjust="spacing" stroke="#000" stroke-width="0.4">0..∞</text>
<path d="M375.0 2215.7H380.5L387.5 2208.2L394.5 2215.7H684.0Q691.5 2215.7 691.5 2223.2V2240.2Q691.5 2247.7 684.0 2247.7H375.0Q367.5 2247.7 367.5 2240.2V2223.2Q367.5 2215.7 375.0 2215.7Z" fill="url(#gAnn)" stroke="#111" stroke-width="1.1"/>
<text x="370.2" y="2227.7999999999997" font-size="11" fill="#1f1f1f" text-anchor="start" textLength="279.2" lengthAdjust="spacing" stroke="#1f1f1f" stroke-width="0.35">A reference to a Calibration object that stores calibration</text>
<text x="370.2" y="2240.7999999999997" font-size="11" fill="#1f1f1f" text-anchor="start" textLength="146.4" lengthAdjust="spacing" stroke="#1f1f1f" stroke-width="0.35">information for the equipment</text>
<rect x="368.6" y="2260.9" width="148.1" height="19.5" rx="9.7" fill="#7d7d88" opacity="0.45"/>
<rect x="369.6" y="2261.9" width="148.1" height="19.5" rx="9.7" fill="#7d7d88" opacity="0.35"/>
<rect x="367.5" y="2259.6" width="148.1" height="19.5" rx="9.7" fill="url(#gElem)" stroke="#b3b5bb" stroke-width="1"/>
<text x="375.2" y="2272.7999999999997" font-size="12" fill="#000" text-anchor="start" textLength="131.6" lengthAdjust="spacing" stroke="#000" stroke-width="0.4">otherEquipmentProperty</text>
<circle cx="524.4" cy="2269.5" r="4.9" fill="#fff" fill-opacity="0.25" stroke="#111" stroke-width="1.15"/>
<path d="M521.9 2269.5H526.6999999999999M524.4 2267.2V2271.8" stroke="#111" stroke-width="1.2"/>
<text x="339.4" y="2266.9" font-size="12" fill="#000" text-anchor="start" textLength="21.8" lengthAdjust="spacing" stroke="#000" stroke-width="0.4">0..∞</text>
<path d="M375.0 2292.7H380.5L387.5 2285.2L394.5 2292.7H706.0Q713.5 2292.7 713.5 2300.2V2317.2Q713.5 2324.7 706.0 2324.7H375.0Q367.5 2324.7 367.5 2317.2V2300.2Q367.5 2292.7 375.0 2292.7Z" fill="url(#gAnn)" stroke="#111" stroke-width="1.1"/>
<text x="370.2" y="2304.7999999999997" font-size="11" fill="#1f1f1f" text-anchor="start" textLength="335.2" lengthAdjust="spacing" stroke="#1f1f1f" stroke-width="0.35">Reference to a Parameter object containing the name, value or range</text>
<text x="370.2" y="2317.7999999999997" font-size="11" fill="#1f1f1f" text-anchor="start" textLength="240.8" lengthAdjust="spacing" stroke="#1f1f1f" stroke-width="0.35">of values and unit of measure of a property or a...</text>
<rect x="2.5" y="1514" width="196.5" height="21.5" fill="#8a8792" opacity="0.7"/>
<rect x="0.3" y="1511.7" width="197.4" height="21.6" fill="url(#gRoot)" stroke="#1a1a1a" stroke-width="1.4"/>
<rect x="10.5" y="1517.5" width="12" height="12" fill="#c9bfe0" opacity="0.7"/>
<rect x="9.5" y="1516.5" width="12" height="12" fill="url(#gType)" stroke="#8d7fb0" stroke-width="1"/>
<text x="32.5" y="1525.9" font-size="12" fill="#000" text-anchor="start" textLength="157.5" lengthAdjust="spacing" stroke="#000" stroke-width="0.4">AbstractPilingEquipmentType</text>
<circle cx="207.5" cy="1522.5" r="5" fill="#fff" fill-opacity="0.25" stroke="#111" stroke-width="1.1"/>
<path d="M205.0 1522.5H210.0" stroke="#111" stroke-width="1.1"/>
<path d="M8.0 1546.5H13.5L20.5 1539.0L27.5 1546.5H223.5Q231.0 1546.5 231.0 1554.0V1571.0Q231.0 1578.5 223.5 1578.5H8.0Q0.5 1578.5 0.5 1571.0V1554.0Q0.5 1546.5 8.0 1546.5Z" fill="url(#gAnnW)" stroke="#111" stroke-width="1.1"/>
<text x="3.2" y="1558.6" font-size="11" fill="#1f1f1f" text-anchor="start" textLength="209" lengthAdjust="spacing" stroke="#1f1f1f" stroke-width="0.35">Abstract supertype for any equipment used</text>
<text x="3.2" y="1571.6" font-size="11" fill="#1f1f1f" text-anchor="start" textLength="89.7" lengthAdjust="spacing" stroke="#1f1f1f" stroke-width="0.35">in pile installation.</text>
</svg>
</body></html>
